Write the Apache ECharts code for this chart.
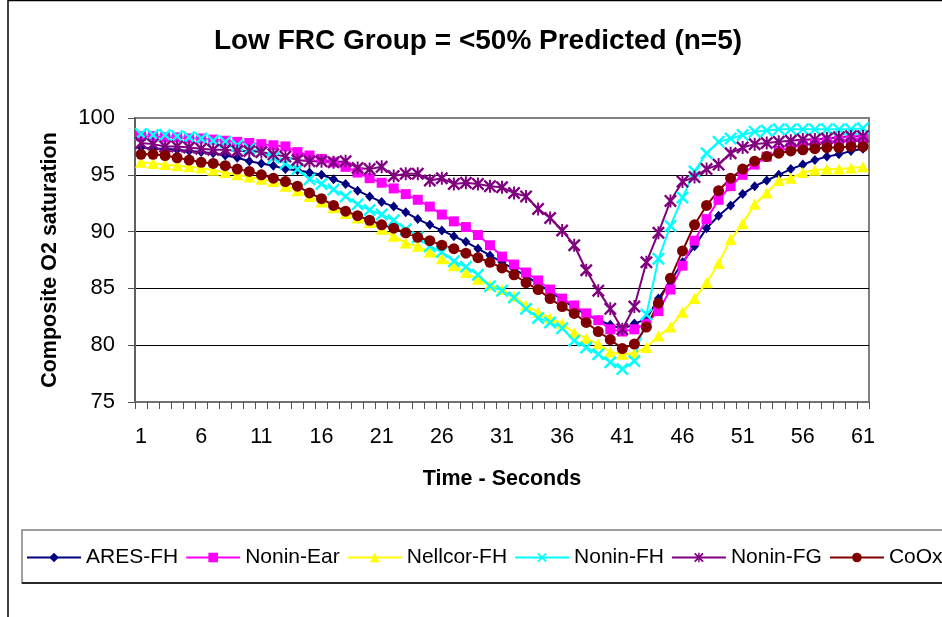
<!DOCTYPE html>
<html>
<head>
<meta charset="utf-8">
<script src="https://cdn.jsdelivr.net/npm/echarts@6/dist/echarts.min.js"></script>
<style>
html,body{margin:0;padding:0;background:#fff;overflow:hidden;}
#chart{width:942px;height:617px;}
</style>
</head>
<body>
<div id="chart"></div>
<script>
const categories = ["1","2","3","4","5","6","7","8","9","10","11","12","13","14","15","16","17","18","19","20",
"21","22","23","24","25","26","27","28","29","30","31","32","33","34","35","36","37","38","39","40",
"41","42","43","44","45","46","47","48","49","50","51","52","53","54","55","56","57","58","59","60","61"];

const aresFH = [97.4,97.3,97.3,97.2,97.1,97.0,96.9,96.7,96.5,96.2,96.0,95.8,95.5,95.4,95.2,95.0,94.6,94.2,93.6,93.1,
92.6,92.2,91.7,91.1,90.6,90.1,89.6,89.1,88.5,87.9,87.3,86.7,86.1,85.4,84.7,84.0,83.3,82.7,82.2,81.8,
81.4,81.9,82.3,84.1,85.6,87.3,88.7,90.3,91.4,92.3,93.3,94.0,94.5,95.0,95.5,95.9,96.3,96.6,96.8,97.1,97.3];

const noninEar = [98.4,98.4,98.3,98.3,98.2,98.2,98.1,98.0,97.9,97.8,97.7,97.6,97.5,97.0,96.7,96.4,96.1,95.7,95.2,94.7,
94.3,93.8,93.3,92.8,92.2,91.5,90.9,90.4,89.7,88.8,87.8,87.1,86.4,85.7,84.9,84.1,83.5,82.8,82.2,81.4,
81.2,81.4,81.9,83.0,84.9,87.0,89.2,91.1,92.8,94.0,95.0,95.9,96.6,97.1,97.4,97.6,97.8,97.9,98.0,98.1,98.2];

const nellcorFH = [96.1,96.0,95.9,95.8,95.7,95.6,95.4,95.2,95.0,94.8,94.6,94.4,94.0,93.6,93.1,92.6,92.1,91.6,91.2,90.8,
90.2,89.6,89.0,88.7,88.2,87.6,87.0,86.4,85.8,85.3,84.9,84.3,83.5,82.9,82.4,81.9,81.1,80.6,80.1,79.4,
79.2,79.3,79.8,80.8,81.6,82.9,84.1,85.5,87.2,89.3,90.7,92.4,93.4,94.5,94.7,95.2,95.4,95.5,95.5,95.6,95.7];

const noninFH = [98.6,98.5,98.5,98.4,98.3,98.2,98.0,97.9,97.6,97.3,97.0,96.5,96.0,95.5,94.6,94.2,93.7,93.1,92.4,91.9,
91.5,91.0,90.2,89.5,88.7,88.2,87.4,86.9,86.2,85.2,84.8,84.2,83.2,82.4,82.0,81.5,80.4,79.8,79.2,78.5,
77.9,78.6,82.7,87.6,90.5,93.0,95.3,96.9,97.9,98.2,98.5,98.8,98.9,99.0,99.0,99.0,99.0,99.0,99.0,99.0,99.1];

const noninFG = [97.8,97.7,97.5,97.5,97.4,97.3,97.2,97.2,97.1,97.1,97.0,96.8,96.6,96.3,96.2,96.2,96.1,96.2,95.6,95.5,
95.7,94.9,95.1,95.1,94.5,94.7,94.2,94.3,94.2,94.0,93.9,93.4,93.1,92.0,91.2,90.1,88.8,86.6,84.8,83.2,
81.4,83.4,87.3,89.9,92.7,94.4,94.8,95.5,95.9,96.9,97.4,97.7,97.8,97.9,98.0,98.1,98.1,98.2,98.3,98.4,98.4];

const coOx = [96.8,96.8,96.7,96.5,96.3,96.1,96.0,95.8,95.5,95.3,95.0,94.7,94.4,94.0,93.4,92.9,92.3,91.8,91.4,91.0,
90.6,90.3,89.9,89.5,89.2,88.8,88.5,88.1,87.7,87.3,86.8,86.2,85.5,84.9,84.1,83.4,82.8,82.0,81.2,80.5,
79.7,80.1,81.6,83.7,85.9,88.3,90.6,92.3,93.6,94.7,95.5,96.2,96.6,96.9,97.1,97.2,97.3,97.4,97.4,97.5,97.5];

const seriesNames = ["ARES-FH","Nonin-Ear","Nellcor-FH","Nonin-FH","Nonin-FG","CoOx"];
const seriesData = [aresFH, noninEar, nellcorFH, noninFH, noninFG, coOx];
const seriesColors = ["#000080","#FF00FF","#FFFF00","#00FFFF","#800080","#800000"];

const X_PATH = 'path://M0,1.3L1.3,0L5,3.7L8.7,0L10,1.3L6.3,5L10,8.7L8.7,10L5,6.3L1.3,10L0,8.7L3.7,5Z';
const STAR_PATH = 'path://M0,1.3L1.3,0L5,3.7L8.7,0L10,1.3L6.3,5L10,8.7L8.7,10L5,6.3L1.3,10L0,8.7L3.7,5Z M4.25,0L5.75,0L5.75,10L4.25,10Z';
const seriesSymbols = ['diamond','rect','triangle',X_PATH,STAR_PATH,'circle'];
const seriesSymbolSizes = [[9,10],10,[12,11],13,13,11];

const FONT = '"Liberation Sans", Arial, sans-serif';

const chart = echarts.init(document.getElementById('chart'), null, {renderer:'canvas'});

const series = seriesNames.map((name, i) => ({
  name: name,
  type: 'line',
  data: seriesData[i],
  symbol: seriesSymbols[i],
  symbolSize: seriesSymbolSizes[i],
  showAllSymbol: true,
  color: seriesColors[i],
  lineStyle: {color: seriesColors[i], width: 2},
  itemStyle: {color: seriesColors[i]},
  emphasis: {disabled: true},
  animation: false
}));

const option = {
  backgroundColor: '#ffffff',
  animation: false,
  textStyle: {fontFamily: FONT, color: '#000'},
  title: {
    text: 'Low FRC Group = <50% Predicted (n=5)',
    left: 478,
    top: 27,
    padding: 0,
    textAlign: 'center',
    textStyle: {fontFamily: FONT, fontSize: 28, fontWeight: 'bold', color: '#000'}
  },
  graphic: [
    {type: 'line', z: -10, shape: {x1: 8, y1: 0, x2: 8, y2: 617}, style: {stroke: '#000', lineWidth: 1.5}},
    {type: 'line', z: -10, shape: {x1: 8, y1: 0.5, x2: 942, y2: 0.5}, style: {stroke: '#000', lineWidth: 1.5}},
    {type: 'rect', z: -10, shape: {x: 22, y: 530, width: 1000, height: 53}, style: {fill: '#fff', stroke: '#808080', lineWidth: 1.5}},
    {type: 'line', z: -9, shape: {x1: 22, y1: 583, x2: 942, y2: 583}, style: {stroke: '#000', lineWidth: 1.5}}
  ],
  legend: {
    data: seriesNames,
    left: 26,
    top: 547,
    width: 1400,
    padding: 0,
    orient: 'horizontal',
    itemWidth: 54,
    itemHeight: 12,
    itemGap: 7,
    textStyle: {fontFamily: FONT, fontSize: 21, color: '#000'},
    selectedMode: false
  },
  grid: {
    left: 135, top: 118, width: 734, height: 284,
    show: true, backgroundColor: '#fff', borderColor: '#808080', borderWidth: 2,
    containLabel: false
  },
  xAxis: {
    type: 'category',
    data: categories,
    boundaryGap: true,
    name: 'Time - Seconds',
    nameLocation: 'middle',
    nameGap: 66,
    nameTextStyle: {fontFamily: FONT, fontSize: 21.5, fontWeight: 'bold', color: '#000'},
    axisLine: {show: true, lineStyle: {color: '#707070', width: 2}},
    axisTick: {show: true, interval: 0, length: 7, inside: false, alignWithLabel: false, lineStyle: {color: '#505050', width: 1}},
    axisLabel: {interval: 4, fontFamily: FONT, fontSize: 21.5, color: '#000', margin: 24},
    splitLine: {show: false}
  },
  yAxis: {
    type: 'value',
    min: 75, max: 100, interval: 5,
    name: 'Composite O2 saturation',
    nameLocation: 'middle',
    nameGap: 74,
    nameRotate: 90,
    nameTextStyle: {fontFamily: FONT, fontSize: 21.5, fontWeight: 'bold', color: '#000'},
    axisLine: {show: true, lineStyle: {color: '#606060', width: 2}},
    axisTick: {show: true, length: 7, inside: false, lineStyle: {color: '#505050', width: 1}},
    axisLabel: {fontFamily: FONT, fontSize: 22, color: '#000', margin: 20},
    splitLine: {show: true, lineStyle: {color: ['#808080','#000','#000','#000','#000','#808080'], width: 1}}
  },
  series: series
};

chart.setOption(option);
</script>
</body>
</html>
